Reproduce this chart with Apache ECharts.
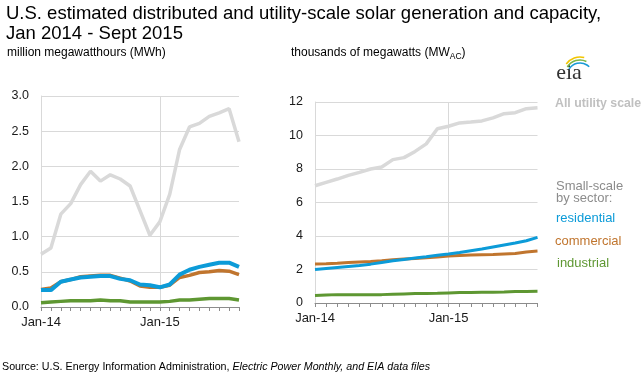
<!DOCTYPE html>
<html>
<head>
<meta charset="utf-8">
<script src="https://cdn.jsdelivr.net/npm/echarts@6/dist/echarts.min.js"></script>
<style>
html,body{margin:0;padding:0;background:#fff;}
#c{width:644px;height:379px;}
</style>
</head>
<body>
<div id="c"></div>
<script>
// Months Jan 2014 - Sep 2015
const months = ['Jan-14','Feb-14','Mar-14','Apr-14','May-14','Jun-14','Jul-14','Aug-14','Sep-14','Oct-14','Nov-14','Dec-14',
                'Jan-15','Feb-15','Mar-15','Apr-15','May-15','Jun-15','Jul-15','Aug-15','Sep-15'];

// Generation, million MWh
const genUtility     = [0.75,0.84,1.32,1.47,1.74,1.93,1.79,1.88,1.82,1.72,1.37,1.02,1.21,1.60,2.24,2.56,2.61,2.71,2.76,2.82,2.35];
const genResidential = [0.24,0.24,0.36,0.39,0.42,0.43,0.44,0.44,0.40,0.38,0.32,0.31,0.28,0.32,0.46,0.53,0.57,0.60,0.63,0.63,0.57];
const genCommercial  = [0.25,0.27,0.36,0.39,0.43,0.44,0.45,0.45,0.41,0.37,0.30,0.28,0.28,0.31,0.42,0.45,0.49,0.50,0.52,0.51,0.46];
const genIndustrial  = [0.06,0.07,0.08,0.09,0.09,0.09,0.10,0.09,0.09,0.07,0.07,0.07,0.07,0.08,0.10,0.10,0.11,0.12,0.12,0.12,0.10];

// Capacity, thousand MW (AC)
const capUtility     = [7.0,7.2,7.4,7.62,7.8,8.0,8.12,8.56,8.68,9.05,9.5,10.4,10.55,10.75,10.8,10.87,11.05,11.3,11.36,11.6,11.66];
const capResidential = [2.0,2.06,2.12,2.18,2.24,2.32,2.42,2.52,2.6,2.68,2.76,2.85,2.93,3.02,3.12,3.22,3.34,3.46,3.58,3.72,3.92];
const capCommercial  = [2.33,2.35,2.38,2.42,2.45,2.48,2.52,2.58,2.62,2.65,2.7,2.74,2.8,2.84,2.86,2.88,2.9,2.93,2.95,3.05,3.1];
const capIndustrial  = [0.45,0.48,0.5,0.5,0.5,0.5,0.5,0.52,0.54,0.56,0.57,0.58,0.6,0.62,0.63,0.64,0.64,0.65,0.68,0.69,0.7];

const leftTicks = {min:0, max:3, interval:0.5};
const rightTicks = {min:0, max:12, interval:2};

const C = {gray:'#d9d9d9', blue:'#0c9bd8', orange:'#c0752e', green:'#5e9732', grid:'#d9d9d9', axis:'#8c8c8c', text:'#1a1a1a'};
const FONT = '"Liberation Sans", Arial, sans-serif';

function xAxis(gi){
  return {
    type:'category', gridIndex:gi, data:months, boundaryGap:false,
    axisLine:{show:true, lineStyle:{color:C.axis, width:1}},
    axisTick:{show:true, interval:0, length:4, lineStyle:{color:C.axis}},
    axisLabel:{interval:(i)=>i%12===0, margin:9, color:C.text, fontSize:13, fontFamily:FONT},
    splitLine:{show:true, interval:(i)=>i===12, lineStyle:{color:C.grid, width:1}}
  };
}
function yAxis(gi, t, fmt){
  return {
    type:'value', gridIndex:gi, min:t.min, max:t.max, interval:t.interval,
    axisLine:{show:true, lineStyle:{color:C.grid, width:1}},
    axisTick:{show:false},
    axisLabel:{margin:12, color:C.text, fontSize:12.5, fontFamily:FONT, formatter:fmt},
    splitLine:{show:true, lineStyle:{color:C.grid, width:1}}
  };
}
function line(gi, data, color, w, z){
  return {type:'line', xAxisIndex:gi, yAxisIndex:gi, data:data, symbol:'none', smooth:false,
          lineStyle:{color:color, width:w}, z:z, animation:false};
}

const chart = echarts.init(document.getElementById('c'), null, {renderer:'canvas'});
chart.setOption({
  animation:false,
  grid:[
    {left:41, top:96, width:198, height:211},
    {left:315, top:102, width:222.5, height:201}
  ],
  xAxis:[xAxis(0), xAxis(1)],
  yAxis:[yAxis(0, leftTicks, v=>v.toFixed(1)), yAxis(1, rightTicks, v=>String(v))],
  series:[
    line(0, genUtility, C.gray, 3.5, 2),
    line(0, genIndustrial, C.green, 3.5, 3),
    line(0, genCommercial, C.orange, 3.5, 4),
    line(0, genResidential, C.blue, 4, 5),
    line(1, capUtility, C.gray, 3.5, 2),
    line(1, capIndustrial, C.green, 3, 3),
    line(1, capCommercial, C.orange, 3, 4),
    line(1, capResidential, C.blue, 3, 5)
  ],
  graphic:[
    {type:'text', x:6, y:14, style:{text:'U.S. estimated distributed and utility-scale solar generation and capacity,', font:'18.5px '+FONT, fill:'#000', textAlign:'left', textVerticalAlign:'middle'}},
    {type:'text', x:6, y:33.5, style:{text:'Jan 2014 - Sept 2015', font:'18.5px '+FONT, fill:'#000', textAlign:'left', textVerticalAlign:'middle'}},
    {type:'text', x:7, y:53, style:{text:'million megawatthours (MWh)', font:'12px '+FONT, fill:'#000', textAlign:'left', textVerticalAlign:'middle'}},
    {type:'text', x:291, y:53, style:{text:'thousands of megawatts (MW{sub|AC})', font:'12px '+FONT, fill:'#000', textAlign:'left', textVerticalAlign:'middle',
      rich:{sub:{fontSize:8.5, fontFamily:FONT, fill:'#000', padding:[7,0,0,0]}}}},
    {type:'text', x:555, y:104, style:{text:'All utility scale', font:'bold 12.3px '+FONT, fill:'#c0c0c0', textAlign:'left', textVerticalAlign:'middle'}},
    {type:'text', x:556, y:186, style:{text:'Small-scale', font:'13px '+FONT, fill:'#8c8c8c', textAlign:'left', textVerticalAlign:'middle'}},
    {type:'text', x:556, y:198, style:{text:'by sector:', font:'13px '+FONT, fill:'#8c8c8c', textAlign:'left', textVerticalAlign:'middle'}},
    {type:'text', x:556, y:218.5, style:{text:'residential', font:'13px '+FONT, fill:C.blue, textAlign:'left', textVerticalAlign:'middle'}},
    {type:'text', x:555, y:241.5, style:{text:'commercial', font:'13px '+FONT, fill:C.orange, textAlign:'left', textVerticalAlign:'middle'}},
    {type:'text', x:557, y:263.5, style:{text:'industrial', font:'13px '+FONT, fill:C.green, textAlign:'left', textVerticalAlign:'middle'}},
    {type:'text', x:2, y:367, style:{text:'Source: U.S. Energy Information Administration, {i|Electric Power Monthly, and EIA data files}', font:'10.7px '+FONT, fill:'#000', textAlign:'left', textVerticalAlign:'middle',
      rich:{i:{fontStyle:'italic', fontSize:10.7, fontFamily:FONT, fill:'#000'}}}},
    // EIA logo
    {type:'text', x:569, y:73, style:{text:'eia', font:'22px "Liberation Serif", "DejaVu Serif", serif', fill:'#333', textAlign:'center', textVerticalAlign:'middle'}},
    {type:'arc', shape:{cx:580, cy:74, r:17, startAngle:-Math.PI*0.80, endAngle:-Math.PI*0.42}, style:{stroke:'#f2c500', lineWidth:1.6, fill:null}},
    {type:'arc', shape:{cx:580, cy:75, r:15, startAngle:-Math.PI*0.82, endAngle:-Math.PI*0.36}, style:{stroke:'#7ab648', lineWidth:1.6, fill:null}},
    {type:'arc', shape:{cx:580, cy:76, r:13, startAngle:-Math.PI*0.82, endAngle:-Math.PI*0.25}, style:{stroke:'#1a9ad6', lineWidth:1.6, fill:null}}
  ]
});
</script>
</body>
</html>
